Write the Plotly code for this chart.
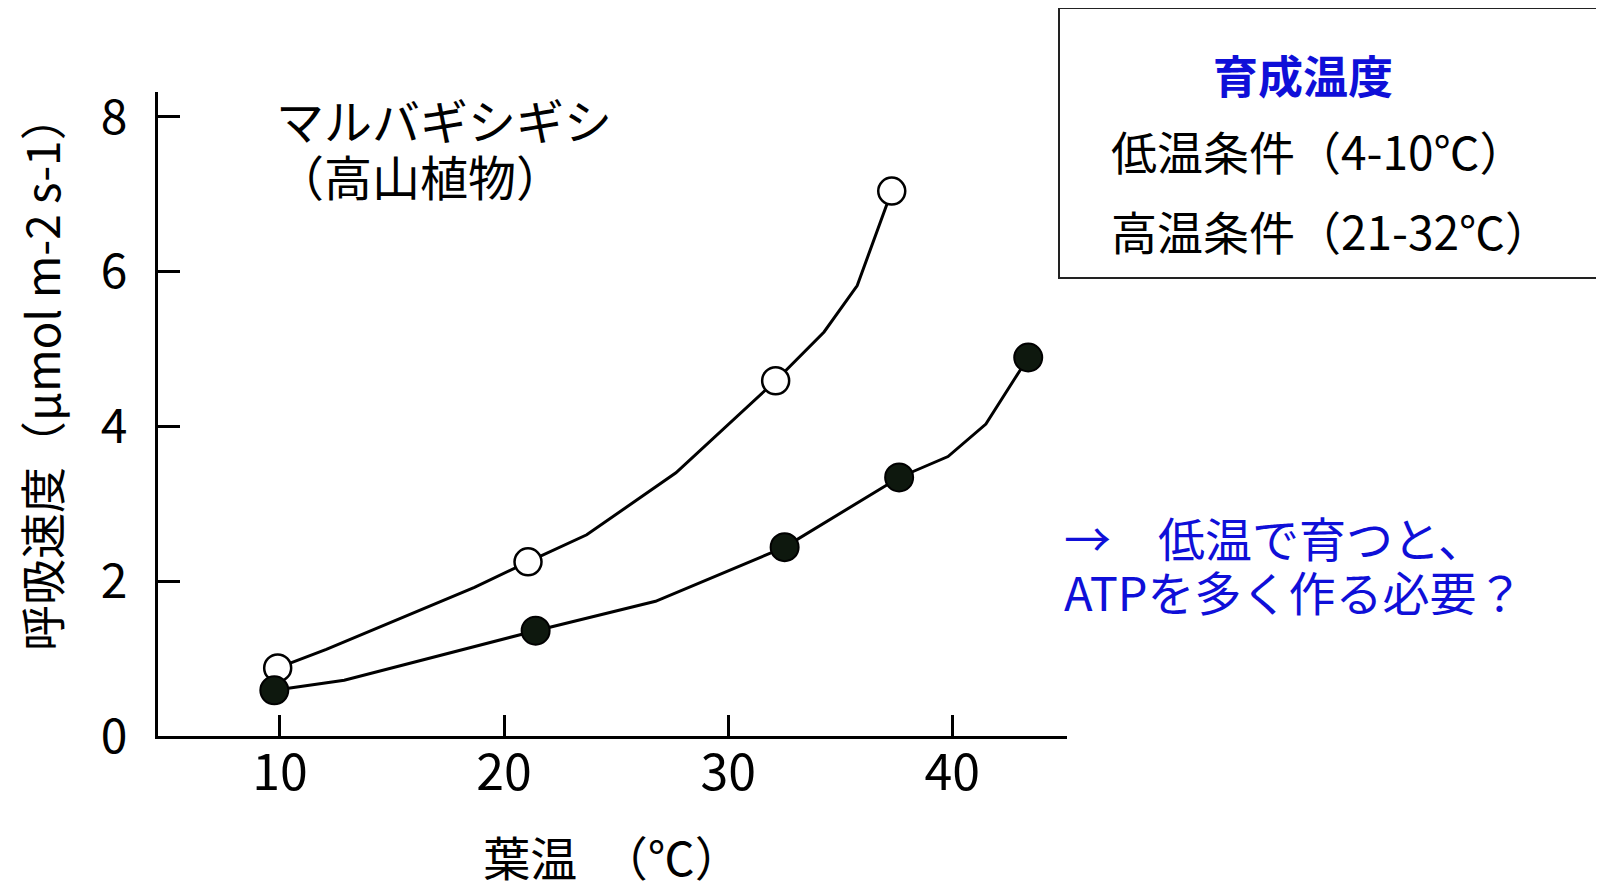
import plotly.graph_objects as go

# ---- data ----
# 低温条件 (open circles): measured points
low_x = [9.9, 21.07, 32.12, 37.3]
low_y = [0.88, 2.25, 4.59, 7.04]
# 低温条件 curve vertices (smoothed hand-drawn line)
low_curve_x = [9.9, 12.07, 18.68, 21.07, 23.69, 27.67, 32.12, 34.28, 35.76, 37.3]
low_curve_y = [0.88, 1.12, 1.92, 2.25, 2.60, 3.40, 4.59, 5.22, 5.82, 7.04]

# 高温条件 (filled circles): measured points
high_x = [9.75, 21.41, 32.52, 37.63, 43.39]
high_y = [0.59, 1.36, 2.44, 3.34, 4.89]
# 高温条件 curve vertices
high_curve_x = [9.75, 12.87, 21.41, 26.76, 32.52, 37.63, 39.81, 41.5, 43.39]
high_curve_y = [0.59, 0.72, 1.36, 1.74, 2.44, 3.34, 3.61, 4.03, 4.89]

x_ticks = [10, 20, 30, 40]
y_ticks = [0, 2, 4, 6, 8]

# ---- layout geometry (pixels) ----
W, H = 1604, 882
OFF = 8  # page body margin added by the html page
L, R, T, B = 150, 545, 84, 154
PW, PH = W - L - R, H - T - B


def px(x):
    return (x - OFF - L) / PW


def py(y):
    return (H - B - (y - OFF)) / PH


JP = "Noto Sans CJK JP"
BLACK = "#000000"
BLUE = "#0f0fd8"
DARK = "#0e180e"

fig = go.Figure()

fig.add_trace(go.Scatter(x=low_curve_x, y=low_curve_y, mode="lines",
                         line=dict(color=BLACK, width=3), showlegend=False,
                         hoverinfo="skip"))
fig.add_trace(go.Scatter(x=low_x, y=low_y, mode="markers", name="低温条件（4-10℃）",
                         marker=dict(size=27, color="white",
                                     line=dict(color=BLACK, width=2.5)),
                         showlegend=False))
fig.add_trace(go.Scatter(x=high_curve_x, y=high_curve_y, mode="lines",
                         line=dict(color=BLACK, width=3), showlegend=False,
                         hoverinfo="skip"))
fig.add_trace(go.Scatter(x=high_x, y=high_y, mode="markers", name="高温条件（21-32℃）",
                         marker=dict(size=28, color=DARK,
                                     line=dict(color=BLACK, width=2)),
                         showlegend=False))

annotations = [
    dict(text="呼吸速度（μmol m-2 s-1）", x=px(40), y=py(373), textangle=-90,
         font=dict(size=46, color=BLACK, family=JP)),
    dict(text="マルバギシギシ", x=px(274), y=py(119), xanchor="left",
         font=dict(size=48, color=BLACK, family=JP)),
    dict(text="（高山植物）", x=px(274), y=py(175), xanchor="left",
         font=dict(size=48, color=BLACK, family=JP)),
    dict(text="<b>育成温度</b>", x=px(1303), y=py(75), xanchor="center",
         font=dict(size=45, color=BLUE, family=JP)),
    dict(text="低温条件（4-10℃）", x=px(1109), y=py(150), xanchor="left",
         font=dict(size=46, color=BLACK, family=JP)),
    dict(text="高温条件（21-32℃）", x=px(1109), y=py(230), xanchor="left",
         font=dict(size=46, color=BLACK, family=JP)),
    dict(text="→　低温で育つと、", x=px(1062), y=py(536), xanchor="left",
         font=dict(size=47, color=BLUE, family=JP)),
    dict(text="ATPを多く作る必要？", x=px(1062), y=py(590), xanchor="left",
         font=dict(size=47, color=BLUE, family=JP)),
]
for a in annotations:
    a.setdefault("xanchor", "center")
    a.update(xref="paper", yref="paper", yanchor="middle", showarrow=False)

fig.update_layout(
    width=W, height=H,
    margin=dict(l=L, r=R, t=T, b=B, autoexpand=False),
    paper_bgcolor="white", plot_bgcolor="white",
    font=dict(family=JP, color=BLACK),
    annotations=annotations,
    shapes=[dict(type="rect", xref="paper", yref="paper",
                 x0=px(1059), x1=px(1602), y0=py(278), y1=py(8),
                 line=dict(color="#222222", width=2), fillcolor="rgba(0,0,0,0)")],
    xaxis=dict(range=[4.56, 45.12], tickvals=x_ticks, ticktext=[str(v) for v in x_ticks],
               ticks="inside", ticklen=21, tickwidth=2.5, tickcolor=BLACK,
               showline=True, linewidth=3, linecolor=BLACK,
               showgrid=False, zeroline=False,
               tickfont=dict(size=50, family=JP, color=BLACK),
               ticklabelstandoff=-9,
               title=dict(text="葉温　（℃）", standoff=42,
                          font=dict(size=47, family=JP, color=BLACK))),
    yaxis=dict(range=[0, 8.32], tickvals=y_ticks, ticktext=[str(v) for v in y_ticks],
               ticks="inside", ticklen=22, tickwidth=2.5, tickcolor=BLACK,
               showline=True, linewidth=3, linecolor=BLACK,
               showgrid=False, zeroline=False,
               tickfont=dict(size=48, family=JP, color=BLACK),
               ticklabelstandoff=18),
)

fig.write_html("out.html")
